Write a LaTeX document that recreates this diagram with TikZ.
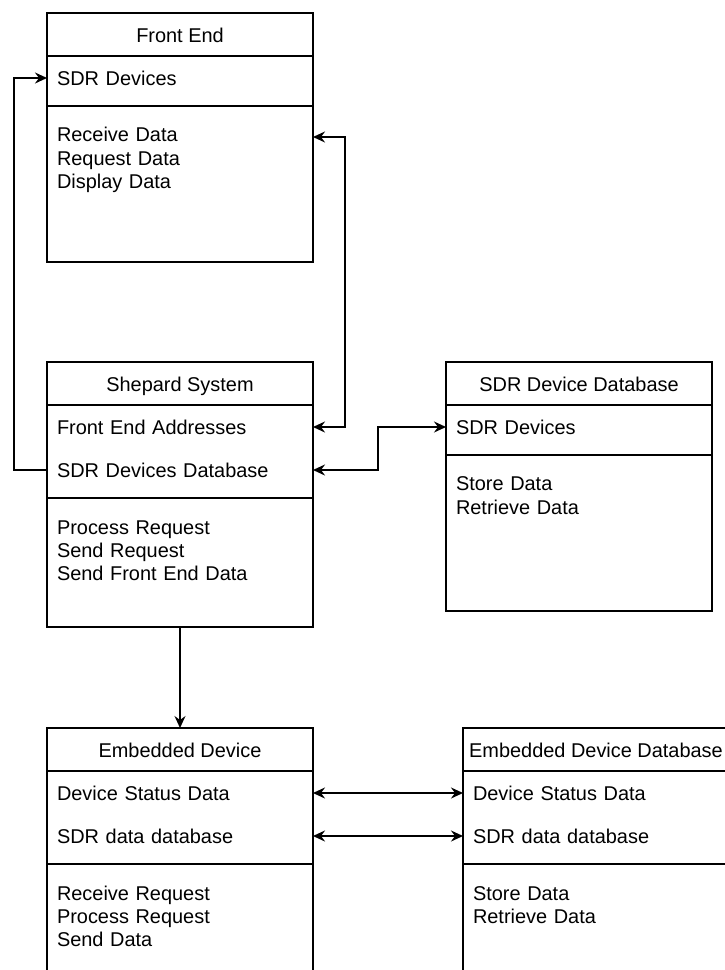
\documentclass[tikz,border=0pt]{standalone}
\usepackage{fontspec}
\setmainfont{Liberation Sans}
\usetikzlibrary{arrows.meta}

\begin{document}
\begin{tikzpicture}[x=1bp,y=-1bp,
  box/.style={draw, line width=1.5bp, minimum width=266bp, anchor=north west,
              inner sep=0pt, outer sep=0pt},
  txt/.style={font=\fontsize{20}{24}\selectfont, text height=14bp, text depth=0bp,
              inner sep=0pt, outer sep=0pt},
  title/.style={txt, anchor=center},
  item/.style={txt, anchor=west, text width=246bp, align=left, inner xsep=10bp},
  one/.style={line width=1.6bp, -{Stealth[length=12bp,width=11bp,inset=4bp]}},
  both/.style={line width=1.6bp, {Stealth[length=12bp,width=11bp,inset=4bp]}-{Stealth[length=12bp,width=11bp,inset=4bp]}}]

\clip (0,0) rectangle (725,970);

% ---------- Front End ----------
\node[box, minimum height=249bp] (fe) at (47,13) {};
\draw[line width=1.5bp] (47,56) -- (313,56) (47,106) -- (313,106);
\node[title] (feT) at (180,35) {Front End};
\node[item] (feSDR) at (47,78) {SDR Devices};
\node[item] (feM1) at (47,134) {Receive Data};
\node[item] (feM2) at (47,158) {Request Data};
\node[item] (feM3) at (47,181) {Display Data};
\coordinate (feIn) at (313,137);

% ---------- Shepard System ----------
\node[box, minimum height=265bp] (sh) at (47,362) {};
\draw[line width=1.5bp] (47,405) -- (313,405) (47,498) -- (313,498);
\node[title] (shT) at (180,384) {Shepard System};
\node[item] (shFEA) at (47,427) {Front End Addresses};
\node[item] (shSDR) at (47,470) {SDR Devices Database};
\node[item] (shM1) at (47,527) {Process Request};
\node[item] (shM2) at (47,550) {Send Request};
\node[item] (shM3) at (47,573) {Send Front End Data};

% ---------- SDR Device Database ----------
\node[box, minimum height=249bp] (db) at (446,362) {};
\draw[line width=1.5bp] (446,405) -- (712,405) (446,455) -- (712,455);
\node[title] (dbT) at (579,384) {SDR Device Database};
\node[item] (dbSDR) at (446,427) {SDR Devices};
\node[item] (dbM1) at (446,483) {Store Data};
\node[item] (dbM2) at (446,507) {Retrieve Data};

% ---------- Embedded Device ----------
\node[box, minimum height=300bp] (ed) at (47,728) {};
\draw[line width=1.5bp] (47,771) -- (313,771) (47,864) -- (313,864);
\node[title] (edT) at (180,750) {Embedded Device};
\node[item] (edDSD) at (47,793) {Device Status Data};
\node[item] (edSDR) at (47,836) {SDR data database};
\node[item] (edM1) at (47,893) {Receive Request};
\node[item] (edM2) at (47,916) {Process Request};
\node[item] (edM3) at (47,939) {Send Data};

% ---------- Embedded Device Database ----------
\node[box, minimum height=300bp] (edb) at (463,728) {};
\draw[line width=1.5bp] (463,771) -- (729,771) (463,864) -- (729,864);
\node[title] (edbT) at (596,750) {Embedded Device Database};
\node[item] (edbDSD) at (463,793) {Device Status Data};
\node[item] (edbSDR) at (463,836) {SDR data database};
\node[item] (edbM1) at (463,893) {Store Data};
\node[item] (edbM2) at (463,916) {Retrieve Data};

% ---------- connectors ----------
\draw[one] (shSDR.west) -- ++(-33,0) |- (feSDR.west);
\draw[both] (feIn) -- ++(32,0) |- (shFEA.east);
\draw[both] (shSDR.east) -- ++(65,0) |- (dbSDR.west);
\draw[one] (sh.south) -- (ed.north);
\draw[both] (edDSD.east) -- (edbDSD.west);
\draw[both] (edSDR.east) -- (edbSDR.west);
\end{tikzpicture}
\end{document}
